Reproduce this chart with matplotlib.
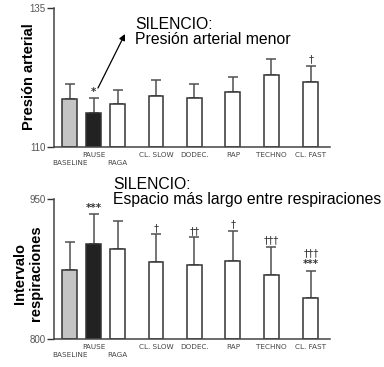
import numpy as np
import matplotlib.pyplot as plt

# data
groups = ['BASELINE', 'PAUSE', 'RAGA', 'CL. SLOW', 'DODEC.', 'RAP', 'TECHNO', 'CL. FAST']
bp_mean = [118.6, 116.1, 117.7, 119.2, 118.8, 119.9, 122.9, 121.7]
bp_err = [2.7, 2.7, 2.6, 2.8, 2.5, 2.7, 2.9, 2.9]
br_mean = [874, 902, 896, 882, 879, 884, 869, 844]
br_err = [30, 32, 30, 30, 30, 32, 30, 29]
bp_marks = [[], ['*'], [], [], [], [], [], ['\u2020']]
br_marks = [[], ['***'], [], ['\u2020'], ['\u2020\u2020'], ['\u2020'], ['\u2020\u2020\u2020'],
            ['***', '\u2020\u2020\u2020']]

# layout
xpos = np.array([0, 1, 2, 3.6, 5.2, 6.8, 8.4, 10.05])
bar_w = 0.62
fills = ['#c4c4c4', '#222222'] + ['white'] * 6
lowlab = ['BASELINE', 'RAGA']

plt.rcParams['font.family'] = ['Liberation Sans', 'DejaVu Sans']
fig = plt.figure(figsize=(3.84, 3.67), dpi=100)
ax1 = fig.add_axes([0.1406, 0.5995, 0.719, 0.3787])
ax2 = fig.add_axes([0.1406, 0.0763, 0.719, 0.3815])


def panel(ax, means, errs, marks, lo, hi):
    ax.bar(xpos, np.array(means) - lo, bar_w, bottom=lo, color=fills,
           edgecolor='#333333', linewidth=1.1, zorder=2)
    ax.errorbar(xpos, means, yerr=[np.zeros(len(errs)), errs], fmt='none',
                ecolor='#505050', elinewidth=1.1, capsize=3.5, capthick=1.1, zorder=1)
    for x, m, e, ts in zip(xpos, means, errs, marks):
        for k, t in enumerate(ts):
            ax.annotate(t, (x, m + e), xytext=(0, 1 + 8 * k), textcoords='offset points',
                        ha='center', va='bottom', fontsize=7.2, color='#333333',
                        fontweight='bold' if '*' in t else 'normal', family='DejaVu Sans')
    ax.set_xlim(-0.65, 10.85)
    ax.set_ylim(lo, hi)
    ax.set_yticks([lo, hi])
    ax.tick_params(axis='y', length=5, width=1, labelsize=7, labelcolor='#555555',
                   color='#333333', pad=1)
    ax.set_xticks([])
    for s in ['top', 'right']:
        ax.spines[s].set_visible(False)
    for s in ['left', 'bottom']:
        ax.spines[s].set_color('#444444')
        ax.spines[s].set_linewidth(1.1)
    for x, g in zip(xpos, groups):
        off = -0.115 if g in lowlab else -0.055
        ax.text(x, off, g, transform=ax.get_xaxis_transform(), ha='center', va='center',
                fontsize=5.2, color='#444444', family='DejaVu Sans Condensed')


panel(ax1, bp_mean, bp_err, bp_marks, 110, 135)
panel(ax2, br_mean, br_err, br_marks, 800, 950)

fig.text(0.075, 0.79, 'Presión arterial', rotation=90, ha='center', va='center',
         fontsize=10.5, fontweight='bold')
fig.text(0.073, 0.255, 'Intervalo\nrespiraciones', rotation=90, ha='center', va='center',
         fontsize=10.5, fontweight='bold', linespacing=1.1)

fig.text(135 / 384, 1 - 17 / 367, 'SILENCIO:\nPresión arterial menor', ha='left', va='top',
         fontsize=11.3, linespacing=1.0)
fig.text(113 / 384, 1 - 177 / 367, 'SILENCIO:\nEspacio más largo entre respiraciones', ha='left',
         va='top', fontsize=11.3, linespacing=1.0)

fig.add_artist(plt.Annotation('', xy=(125 / 384, 1 - 34 / 367), xytext=(98 / 384, 1 - 88 / 367),
                              xycoords='figure fraction', textcoords='figure fraction',
                              arrowprops=dict(arrowstyle='-|>', color='black', lw=0.9,
                                              mutation_scale=9, shrinkA=0, shrinkB=0)))

fig.savefig('out.png', dpi=100)
